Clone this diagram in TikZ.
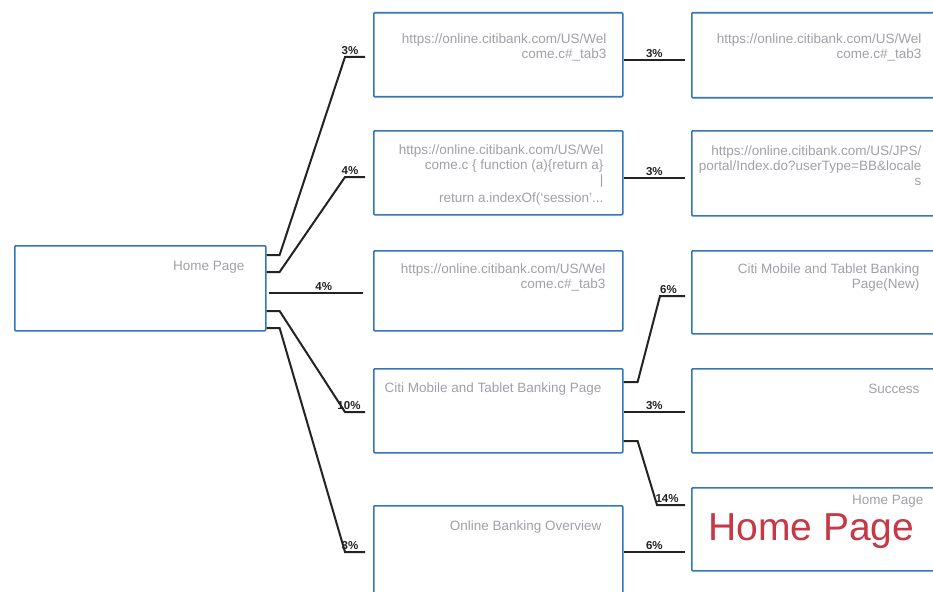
\documentclass[tikz,border=0pt]{standalone}
\usepackage{fontspec}
\setmainfont{Liberation Sans}
\usetikzlibrary{calc}
\definecolor{boxblue}{RGB}{52,118,186}
\definecolor{txtgrey}{RGB}{160,160,168}
\definecolor{conncol}{RGB}{35,35,35}
\definecolor{hred}{RGB}{200,55,70}
\tikzset{
 pagebox/.style={draw=boxblue, line width=1.6pt, fill=white, minimum width=249pt, minimum height=84pt, anchor=north west, inner sep=0pt, rounded corners=1pt},
 pagetext/.style={anchor=north east, align=right, inner sep=0pt, text=txtgrey, font=\fontsize{13.5}{15}\selectfont},
 conn/.style={draw=conncol, line width=2pt},
 pct/.style={font=\fontsize{11.5}{13}\selectfont\bfseries, text=conncol, inner sep=1.5pt, anchor=south}
}
\begin{document}
\begin{tikzpicture}[x=1pt,y=-1pt]
\useasboundingbox (0,0) rectangle (933,591);
\clip (0,0) rectangle (933,591);
\fill[white] (0,0) rectangle (933,591);
% boxes
\node[pagebox, minimum width=251pt, minimum height=85pt] (home) at (14,245) {};
\node[pagebox] (b1) at (373,12) {};
\node[pagebox] (b2) at (373,130) {};
\node[pagebox, minimum height=80pt] (b3) at (373,250) {};
\node[pagebox] (b4) at (373,368) {};
\node[pagebox, minimum height=95pt] (b5) at (373,505) {};
\node[pagebox, minimum height=85pt] (c1) at (691,12) {};
\node[pagebox, minimum height=85pt] (c2) at (691,130) {};
\node[pagebox, minimum height=83pt] (c3) at (691,250) {};
\node[pagebox] (c4) at (691,368) {};
\node[pagebox, minimum height=83pt] (c5) at (691,487) {};
% texts
\node[pagetext] (thome) at ($(home.north east)+(-22,16)$) {Home Page};
\node[pagetext] (tb1) at ($(b1.north east)+(-17,22)$) {https://online.citibank.com/US/Wel\\come.c\#\_tab3};
\node[pagetext] (tb2) at ($(b2.north east)+(-20,15)$) {https://online.citibank.com/US/Wel\\come.c \{ function (a)\{return a\}\\ |\\[3pt] return a.indexOf(`session'...};
\node[pagetext] (tb3) at ($(b3.north east)+(-18,14)$) {https://online.citibank.com/US/Wel\\come.c\#\_tab3};
\node[pagetext] (tb4) at ($(b4.north east)+(-22,15)$) {Citi Mobile and Tablet Banking Page};
\node[pagetext] (tb5) at ($(b5.north east)+(-22,16)$) {Online Banking Overview};
\node[pagetext] (tc1) at ($(c1.north east)+(-20,22)$) {https://online.citibank.com/US/Wel\\come.c\#\_tab3};
\node[pagetext] (tc2) at ($(c2.north east)+(-20,16)$) {https://online.citibank.com/US/JPS/\\portal/Index.do?userType=BB\&locale\\s};
\node[pagetext] (tc3) at ($(c3.north east)+(-22,14)$) {Citi Mobile and Tablet Banking\\Page(New)};
\node[pagetext] (tc4) at ($(c4.north east)+(-22,16)$) {Success};
\node[pagetext] (tc5) at ($(c5.north east)+(-18,8)$) {Home Page};
\node[anchor=base west, inner sep=0pt, text=hred, font=\fontsize{39}{44}\selectfont] (bigred) at ($(c5.north west)+(17,53)$) {Home Page};
% connectors from home
\draw[conn] ($(home.north east)+(0,10)$) -- ++(13,0) -- ($(b1.north west)+(-28,45)$) -- ($(b1.north west)+(-8,45)$) node[pct, midway, xshift=-5pt] (p1) {3\%};
\draw[conn] ($(home.north east)+(0,27)$) -- ++(13,0) -- ($(b2.north west)+(-28,47)$) -- ($(b2.north west)+(-8,47)$) node[pct, midway, xshift=-5pt] (p2) {4\%};
\draw[conn] ($(home.north east)+(2,48)$) -- ($(b3.north west)+(-10,43)$) node[pct, midway, xshift=8pt] (p3) {4\%};
\draw[conn] ($(home.north east)+(0,66)$) -- ++(13,0) -- ($(b4.north west)+(-28,44)$) -- ($(b4.north west)+(-8,44)$) node[pct, midway, xshift=-6pt] (p4) {10\%};
\draw[conn] ($(home.north east)+(0,83)$) -- ++(13,0) -- ($(b5.north west)+(-28,47)$) -- ($(b5.north west)+(-8,47)$) node[pct, midway, xshift=-5pt] (p5) {3\%};
% connectors second column
\draw[conn] ($(b1.north east)+(0,48)$) -- ($(c1.north west)+(-6,48)$) node[pct, midway] (p6) {3\%};
\draw[conn] ($(b2.north east)+(0,48)$) -- ($(c2.north west)+(-6,48)$) node[pct, midway] (p7) {3\%};
\draw[conn] ($(b4.north east)+(0,14)$) -- ++(14,0) -- ($(c3.north west)+(-31,46)$) -- ($(c3.north west)+(-6,46)$) node[pct, midway, xshift=-4pt] (p8) {6\%};
\draw[conn] ($(b4.north east)+(0,44)$) -- ($(c4.north west)+(-6,44)$) node[pct, midway] (p9) {3\%};
\draw[conn] ($(b4.north east)+(0,73)$) -- ++(14,0) -- ($(c5.north west)+(-34,18)$) -- ($(c5.north west)+(-6,18)$) node[pct, midway, xshift=-4pt] (p10) {14\%};
\draw[conn] ($(b5.north east)+(0,47)$) -- ($(c5.north west)+(-6,65)$) node[pct, midway] (p11) {6\%};
\end{tikzpicture}
\end{document}
